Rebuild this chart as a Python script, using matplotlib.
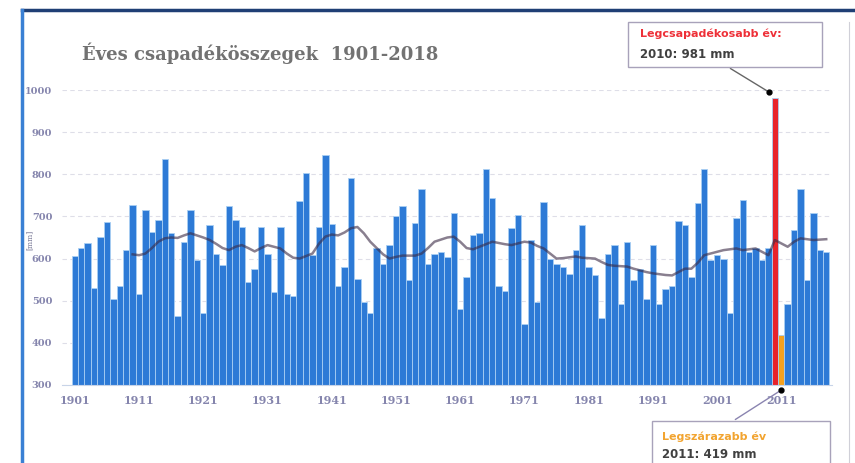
import matplotlib
matplotlib.use('Agg')
import matplotlib.pyplot as plt
from matplotlib.lines import Line2D
from matplotlib.patches import Rectangle
import numpy as np

# Annual precipitation totals (mm)
years = list(range(1901, 2019))
precip = [
    606, 625, 636, 529, 652, 686, 504, 536, 620, 728,
    516, 716, 664, 692, 836, 660, 464, 640, 716, 596,
    472, 680, 612, 584, 724, 692, 676, 544, 576, 676,
    612, 520, 676, 516, 512, 736, 802, 608, 676, 846,
    681, 536, 580, 792, 552, 496, 472, 624, 588, 632,
    700, 724, 548, 684, 764, 588, 612, 616, 604, 708,
    480, 556, 656, 660, 812, 744, 536, 524, 672, 704,
    444, 644, 496, 734, 600, 588, 580, 564, 620, 680,
    580, 560, 460, 612, 632, 492, 640, 548, 576, 504,
    632, 492, 528, 536, 688, 680, 556, 732, 812, 596,
    608, 600, 472, 696, 740, 616, 624, 596, 624, 981,
    419, 492, 668, 764, 548, 708, 620, 616,
]

# smoothed line (10-year running mean), 1910-2018
ma_years = list(range(1910, 2019))
ma_vals = [
    610, 608, 612, 625, 640, 648, 650, 649, 655, 660,
    655, 650, 644, 635, 625, 620, 628, 632, 625, 617,
    625, 632, 628, 624, 612, 602, 600, 606, 612, 635,
    652, 657, 655, 662, 672, 675, 660, 640, 625, 610,
    600, 604, 607, 607, 607, 612, 625, 640, 645, 650,
    652, 640, 625, 622, 628, 634, 640, 637, 634, 632,
    636, 640, 638, 630, 624, 612, 600, 601, 603, 605,
    602, 601, 600, 592, 585, 583, 582, 581, 576, 572,
    568, 565, 563, 561, 560, 568, 576, 576, 590, 608,
    612, 616, 620, 622, 624, 620, 622, 624, 616, 608,
    644, 636, 628, 640, 648, 646, 644, 645, 646,
]

tick_years = list(range(1901, 2012, 10))
y_ticks = [300, 400, 500, 600, 700, 800, 900, 1000]

wet_year, wet_val = 2010, 981
dry_year, dry_val = 2011, 419

W, H = 855, 463
fig = plt.figure(figsize=(W / 100, H / 100), dpi=100)
fig.patch.set_facecolor('white')

def fx(px):
    return px / W

def fy(py):
    return 1 - py / H

ax = fig.add_axes([fx(62), fy(385), fx(832) - fx(62), fy(90) - fy(385)])

colors = []
for yr in years:
    if yr == wet_year:
        colors.append('#e8232b')
    elif yr == dry_year:
        colors.append('#f4a11f')
    else:
        colors.append('#2d7ad6')

ax.bar(years, [v - 300 for v in precip], bottom=300, width=1.0,
       color=colors, edgecolor='#a9cff3', linewidth=0.6, zorder=2)

ax.plot(ma_years, ma_vals, color='#3a2a45', alpha=0.6, lw=1.8, zorder=3)

ax.set_xlim(1899.0, 2018.9)
ax.set_ylim(300, 1000)
ax.set_yticks(y_ticks)
ax.set_xticks(tick_years)
ax.tick_params(axis='both', length=0, colors='#8585ad')
ax.tick_params(axis='y', pad=7, labelsize=7)
ax.tick_params(axis='x', pad=7, labelsize=8)
for lab in ax.get_xticklabels() + ax.get_yticklabels():
    lab.set_family('DejaVu Serif')
    lab.set_fontweight('bold')

ax.yaxis.grid(True, color='#dedee8', linestyle=(0, (4, 3)), linewidth=0.8)
ax.set_axisbelow(True)
for s in ['top', 'right', 'left']:
    ax.spines[s].set_visible(False)
ax.spines['bottom'].set_color('#c8d4e8')

fig.text(fx(30), fy(240), '[mm]', rotation=90, fontsize=5.5, color='#707090',
         ha='center', va='center', family='DejaVu Serif')

fig.text(fx(82), fy(53), 'Éves csapadékösszegek  1901-2018', fontsize=13,
         color='#727272', family='DejaVu Serif', fontweight='bold',
         ha='left', va='center')

# frame decoration
fig.add_artist(Line2D([fx(22), fx(855)], [fy(10), fy(10)], color='#1f3f75', lw=2.5))
fig.add_artist(Line2D([fx(22), fx(22)], [fy(10), fy(463)], color='#3a80d4', lw=2.5))
fig.add_artist(Line2D([fx(849), fx(849)], [fy(22), fy(463)], color='#d0d0d8', lw=0.8))

# wettest year annotation
fig.add_artist(Rectangle((fx(628), fy(67)), fx(822) - fx(628), fy(22) - fy(67),
                         facecolor='white', edgecolor='#a8a2ba', lw=1.0))
fig.text(fx(640), fy(34), 'Legcsapadékosabb év:', color='#ee3038', fontsize=8,
         fontweight='bold', ha='left', va='center')
fig.text(fx(640), fy(55), f'{wet_year}: {wet_val} mm', color='#404040', fontsize=8.5,
         fontweight='bold', ha='left', va='center')
ax.annotate('', xy=(wet_year - 0.9, wet_val + 14), xycoords='data',
            xytext=(728, H - 67), textcoords='figure pixels',
            arrowprops=dict(arrowstyle='-', color='#666666', lw=1.0),
            annotation_clip=False)
ax.plot([wet_year - 0.9], [wet_val + 14], marker='o', ms=3.5, color='black',
        clip_on=False, zorder=5)

# driest year annotation
fig.add_artist(Rectangle((fx(652), fy(470)), fx(830) - fx(652), fy(421) - fy(470),
                         facecolor='white', edgecolor='#a8a2ba', lw=1.0))
fig.text(fx(662), fy(437), 'Legszárazabb év', color='#f2a430', fontsize=8,
         fontweight='bold', ha='left', va='center')
fig.text(fx(662), fy(455), f'{dry_year}: {dry_val} mm', color='#404040', fontsize=8.5,
         fontweight='bold', ha='left', va='center')
ax.annotate('', xy=(dry_year, 288), xycoords='data',
            xytext=(733, H - 421), textcoords='figure pixels',
            arrowprops=dict(arrowstyle='-', color='#8a84b0', lw=1.0),
            annotation_clip=False)
ax.plot([dry_year], [288], marker='o', ms=3.5, color='black', clip_on=False, zorder=5)

fig.savefig('out.png', dpi=100, facecolor='white')
